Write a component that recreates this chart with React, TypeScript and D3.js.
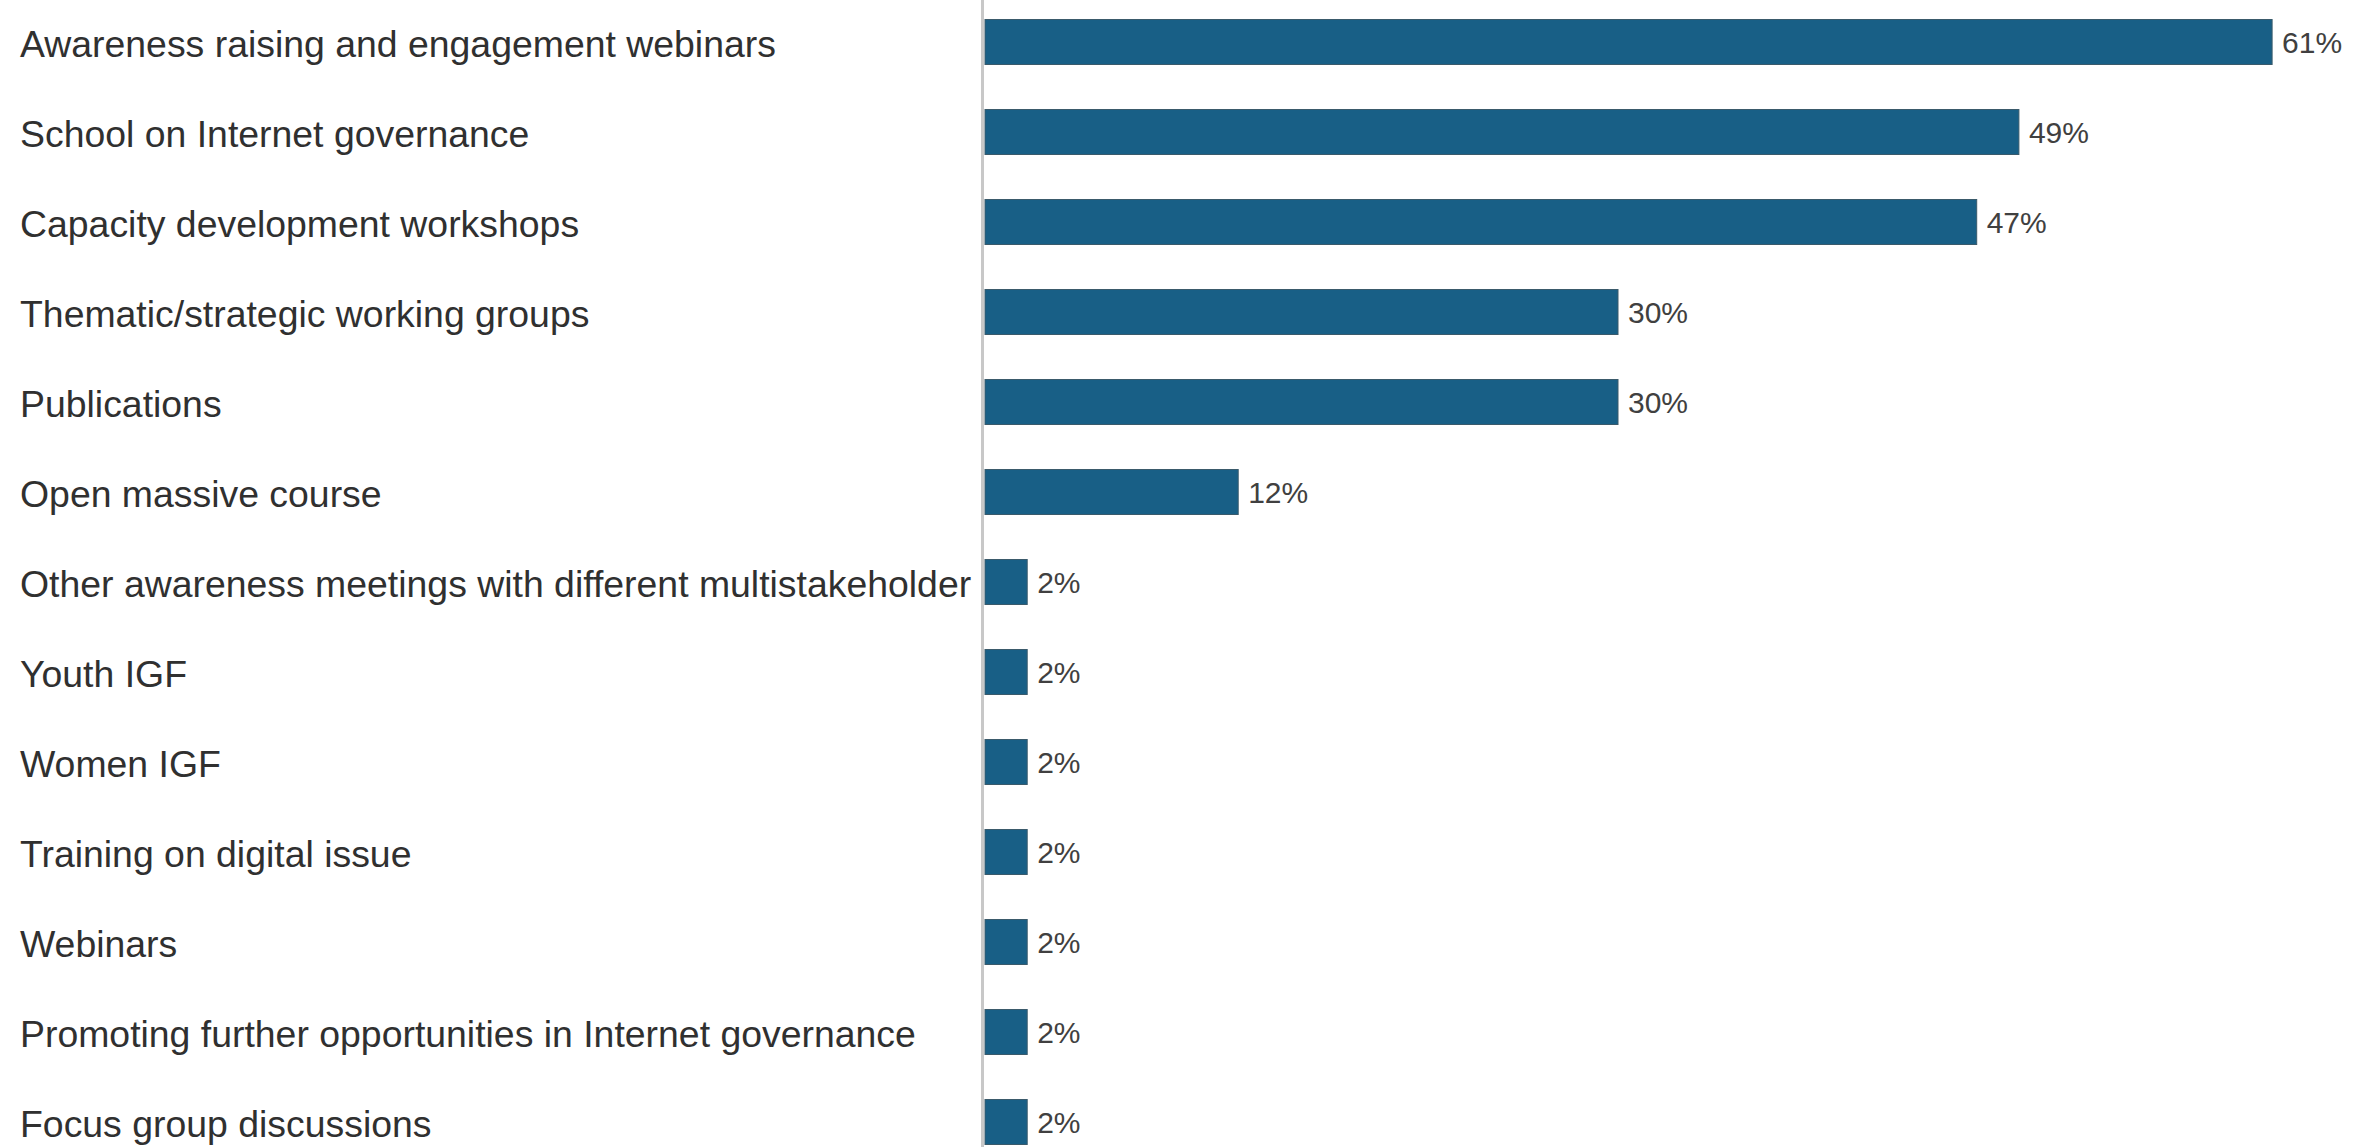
import { useEffect, useRef } from 'react'
import * as d3 from 'd3'

const categories = [
  'Awareness raising and engagement webinars',
  'School on Internet governance',
  'Capacity development workshops',
  'Thematic/strategic working groups',
  'Publications',
  'Open massive course',
  'Other awareness meetings with different multistakeholder',
  'Youth IGF',
  'Women IGF',
  'Training on digital issue',
  'Webinars',
  'Promoting further opportunities in Internet governance',
  'Focus group discussions',
]

const values = [61, 49, 47, 30, 30, 12, 2, 2, 2, 2, 2, 2, 2]

const W = 2353
const H = 1147

const App = () => {
  const ref = useRef<SVGSVGElement>(null)

  useEffect(() => {
    const svg = d3.select(ref.current)
    svg.selectAll('*').remove()

    const rows = categories.map((name, i) => ({ name, value: values[i] }))

    // escalas
    const x = d3.scaleLinear().domain([0, 100]).range([985, 985 + 2110])
    const y = d3
      .scaleBand<string>()
      .domain(categories)
      .range([-3, 1167])
      .paddingInner(0.5)
      .paddingOuter(0.25)

    // linha do eixo
    svg
      .append('rect')
      .attr('x', x(0) - 4)
      .attr('y', 0)
      .attr('width', 3)
      .attr('height', H)
      .attr('fill', '#c8c8c8')

    // barras
    svg
      .append('g')
      .selectAll('rect')
      .data(rows)
      .join('rect')
      .attr('x', x(0))
      .attr('y', (d) => y(d.name)!)
      .attr('width', (d) => x(d.value) - x(0))
      .attr('height', y.bandwidth())
      .attr('fill', '#185f86')
      .attr('stroke', '#3a5a6b')
      .attr('stroke-width', 1)

    // rótulos das categorias
    svg
      .append('g')
      .selectAll('text')
      .data(rows)
      .join('text')
      .attr('x', 20)
      .attr('y', (d) => y(d.name)! + y.bandwidth() / 2)
      .attr('dy', '0.4em')
      .attr('font-family', '"Liberation Sans", Arial, sans-serif')
      .attr('font-size', 37.4)
      .attr('fill', '#303030')
      .text((d) => d.name)

    // rótulos dos valores
    svg
      .append('g')
      .selectAll('text')
      .data(rows)
      .join('text')
      .attr('x', (d) => x(d.value) + 10)
      .attr('y', (d) => y(d.name)! + y.bandwidth() / 2)
      .attr('dy', '0.38em')
      .attr('font-family', '"Liberation Sans", Arial, sans-serif')
      .attr('font-size', 30)
      .attr('fill', '#404040')
      .text((d) => `${d.value}%`)
  }, [])

  return (
    <svg
      ref={ref}
      width={W}
      height={H}
      style={{ position: 'absolute', left: 0, top: 0, background: '#fff' }}
    />
  )
}

export default App
